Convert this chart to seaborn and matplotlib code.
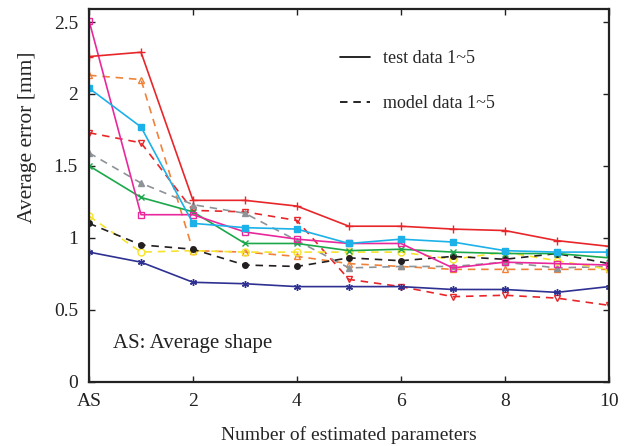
import matplotlib
matplotlib.use('Agg')
import matplotlib.pyplot as plt
from matplotlib.lines import Line2D
import numpy as np
import pandas as pd
import seaborn as sns

sns.set_theme(style='ticks')
plt.rcParams['font.family'] = ['Liberation Serif', 'DejaVu Serif']

# number of estimated parameters (0 = AS, average shape)
n_params = [0, 1, 2, 3, 4, 5, 6, 7, 8, 9, 10]
x_ticks = [0, 2, 4, 6, 8, 10]
x_ticklabels = ['AS', '2', '4', '6', '8', '10']
y_ticks = [0, 0.5, 1, 1.5, 2, 2.5]
y_ticklabels = ['0', '0.5', '1', '1.5', '2', '2.5']

# test data (solid)
test_red = [2.26, 2.29, 1.26, 1.26, 1.22, 1.08, 1.08, 1.06, 1.05, 0.98, 0.94]
test_cyan = [2.04, 1.77, 1.10, 1.07, 1.06, 0.96, 0.99, 0.97, 0.91, 0.90, 0.90]
test_magenta = [2.51, 1.16, 1.16, 1.04, 0.99, 0.96, 0.96, 0.79, 0.83, 0.82, 0.81]
test_green = [1.50, 1.28, 1.18, 0.96, 0.96, 0.91, 0.92, 0.90, 0.89, 0.89, 0.86]
test_navy = [0.90, 0.83, 0.69, 0.68, 0.66, 0.66, 0.66, 0.64, 0.64, 0.62, 0.66]

# model data (dashed)
model_orange = [2.13, 2.10, 0.91, 0.90, 0.87, 0.82, 0.80, 0.78, 0.78, 0.78, 0.78]
model_red = [1.73, 1.66, 1.19, 1.18, 1.12, 0.71, 0.66, 0.59, 0.60, 0.58, 0.53]
model_gray = [1.59, 1.38, 1.23, 1.17, 0.98, 0.79, 0.80, 0.80, 0.83, 0.79, 0.80]
model_black = [1.10, 0.95, 0.92, 0.81, 0.80, 0.86, 0.84, 0.87, 0.85, 0.89, 0.82]
model_yellow = [1.15, 0.90, 0.91, 0.90, 0.90, 0.90, 0.90, 0.85, 0.90, 0.84, 0.78]

DASH = (0, (4.5, 3.5))
ASTERISK = (6, 2, 0)

# (values, colour, linestyle, marker, size, filled)
series = [
    (model_orange, '#F08238', DASH, '^', 5, False),
    (model_red, '#E8262A', DASH, 'v', 5, False),
    (model_gray, '#8E9398', DASH, '^', 4.5, True),
    (model_yellow, '#F7E32A', DASH, 'o', 5, False),
    (model_black, '#231F20', DASH, 'o', 4, True),
    (test_navy, '#2E3192', '-', ASTERISK, 5, False),
    (test_green, '#1BA84A', '-', 'x', 5, False),
    (test_magenta, '#E8289B', '-', 's', 5, False),
    (test_cyan, '#1CB1E8', '-', 's', 5, True),
    (test_red, '#E8262A', '-', '+', 5.5, False),
]

fig = plt.figure(figsize=(6.27, 4.46), dpi=100)
ax = fig.add_axes([0.142, 0.1446, 0.829, 0.835])

for vals, col, ls, mk, ms, filled in series:
    df = pd.DataFrame({'n': n_params, 'err': vals})
    sns.lineplot(data=df, x='n', y='err', ax=ax, color=col, linestyle=ls,
                 linewidth=1.2, marker=mk, markersize=ms,
                 markerfacecolor=col if filled else 'none',
                 markeredgecolor=col, markeredgewidth=1.0)

ax.set_xlim(0, 10)
ax.set_ylim(0, 2.59)
ax.set_xticks(x_ticks)
ax.set_xticklabels(x_ticklabels)
ax.set_yticks(y_ticks)
ax.set_yticklabels(y_ticklabels)
ax.tick_params(direction='in', top=True, right=True, length=4, width=1.0,
               labelsize=14, colors='#222222')
ax.tick_params(axis='x', pad=8)
ax.tick_params(axis='y', pad=8)
for sp in ax.spines.values():
    sp.set_linewidth(1.6)
    sp.set_color('#222222')

ax.set_xlabel('Number of estimated parameters', fontsize=14, labelpad=12)
ax.set_ylabel('Average error [mm]', fontsize=15.5)
ax.yaxis.set_label_coords(-0.1, 0.655)

handles = [Line2D([], [], color='black', lw=1.2, linestyle='-'),
           Line2D([], [], color='black', lw=1.2, linestyle=DASH)]
ax.legend(handles, ['test data 1~5', 'model data 1~5'], loc='upper left',
          bbox_to_anchor=(0.483, 0.889), frameon=False, fontsize=13,
          handlelength=1.65, handletextpad=0.75, labelspacing=1.55,
          borderpad=0, borderaxespad=0)

ax.text(0.046, 0.103, 'AS: Average shape', transform=ax.transAxes,
        fontsize=15, ha='left', va='center', color='#222222')

fig.savefig('out.png', dpi=100)
